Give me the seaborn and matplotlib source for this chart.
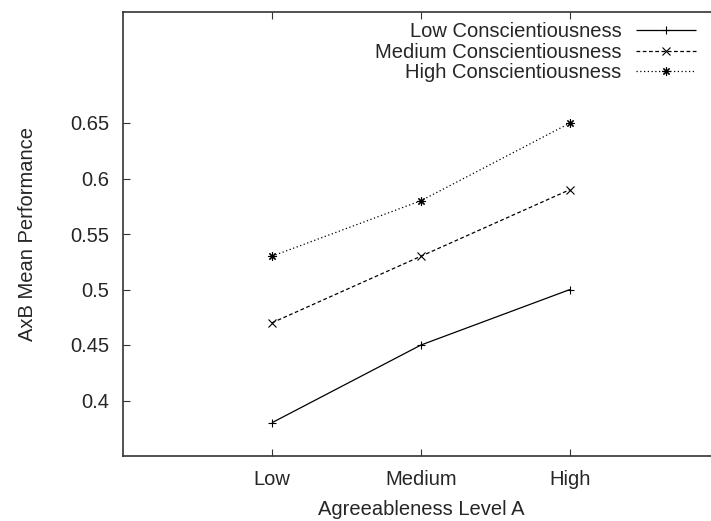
import matplotlib
matplotlib.use("Agg")
import matplotlib.pyplot as plt
import seaborn as sns
import pandas as pd

levels = ["Low", "Medium", "High"]
series = ["Low Conscientiousness", "Medium Conscientiousness", "High Conscientiousness"]
low_c = [0.38, 0.45, 0.50]
med_c = [0.47, 0.53, 0.59]
high_c = [0.53, 0.58, 0.65]
yticks = [0.4, 0.45, 0.5, 0.55, 0.6, 0.65]
ytick_labels = ["0.4", "0.45", "0.5", "0.55", "0.6", "0.65"]

rows = []
for name, vals in zip(series, [low_c, med_c, high_c]):
    for i, v in enumerate(vals):
        rows.append({"x": i, "y": v, "series": name})
df = pd.DataFrame(rows)

sns.set_style("white")
plt.rcParams["font.family"] = ["Liberation Sans", "DejaVu Sans"]
plt.rcParams["font.size"] = 14

fig = plt.figure(figsize=(7.11, 5.21), dpi=100)
ax = fig.add_axes([123 / 711, 65 / 521, 596 / 711, 444 / 521])

sns.lineplot(data=df, x="x", y="y", hue="series", style="series",
             hue_order=series, style_order=series,
             palette=["black", "black", "black"],
             dashes=[(1, 0), (3, 2), (1, 2)],
             markers=["+", "x", (8, 2, 0)],
             markersize=6, linewidth=0.9, ax=ax, legend=True,
             markeredgecolor="black")
for ln in ax.lines:
    ln.set_markeredgewidth(0.8)
    ln.set_markeredgecolor("black")

ax.set_xlim(-1, 3)
ax.set_ylim(0.35, 0.75)
ax.set_xticks(range(len(levels)))
ax.set_xticklabels(levels, fontsize=14.5)
ax.set_yticks(yticks)
ax.set_yticklabels(ytick_labels, fontsize=14.5)
ax.set_xlabel("Agreeableness Level A", labelpad=8, fontsize=14.5)
ax.set_ylabel("AxB Mean Performance", labelpad=24, fontsize=14.5)

for s in ax.spines.values():
    s.set_color("#333333")
    s.set_linewidth(1.2)
ax.tick_params(axis="both", direction="in", length=5, width=0.8, color="#333333",
               top=True, left=True, bottom=True, right=False)
ax.tick_params(axis="x", pad=10)
ax.tick_params(axis="y", pad=10)

handles, labels = ax.get_legend_handles_labels()
leg = ax.legend(handles, labels, loc="upper right", bbox_to_anchor=(706 / 711, 1 - 12 / 521),
                bbox_transform=fig.transFigure, frameon=False, markerfirst=False,
                alignment="right", borderpad=0, handlelength=3.0, handletextpad=0.7,
                labelspacing=0.08, fontsize=14.5)
for h in leg.legend_handles:
    h.set_markeredgecolor("black")
    h.set_markeredgewidth(0.8)

fig.savefig("out.png", dpi=100)
